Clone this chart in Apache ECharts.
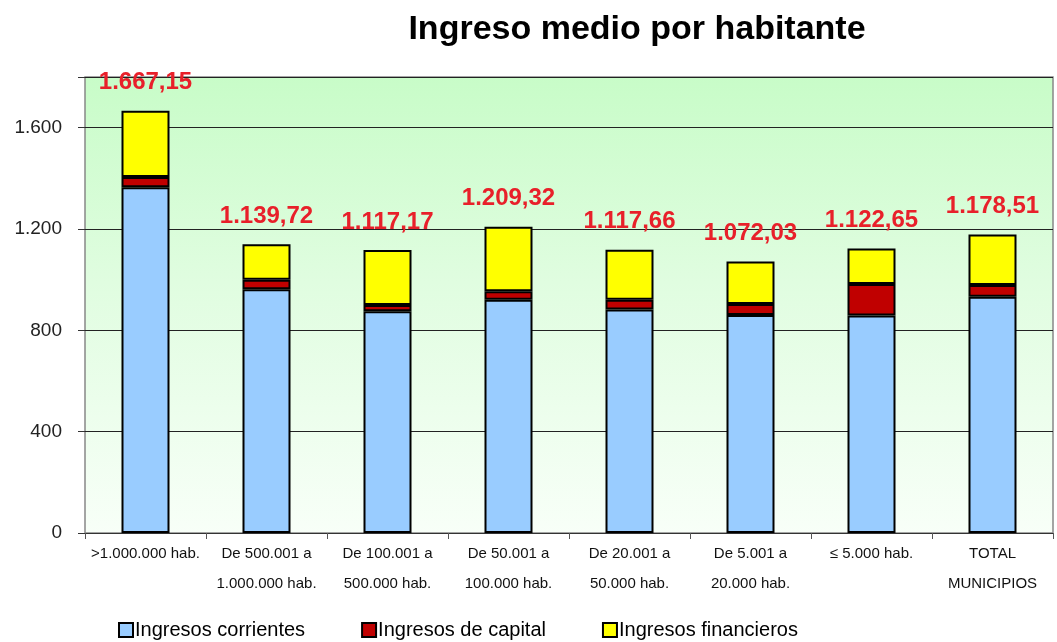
<!DOCTYPE html>
<html><head><meta charset="utf-8">
<script src="https://cdn.jsdelivr.net/npm/echarts@6/dist/echarts.min.js"></script>
<style>html,body{margin:0;padding:0;background:#fff}#c{width:1057px;height:642px}</style>
</head><body><div id="c"></div>
<script>
const categories = ['>1.000.000 hab.', 'De 500.001 a\n1.000.000 hab.', 'De 100.001 a\n500.000 hab.', 'De 50.001 a\n100.000 hab.', 'De 20.001 a\n50.000 hab.', 'De 5.001 a\n20.000 hab.', '≤ 5.000 hab.', 'TOTAL\nMUNICIPIOS'];
const corrientes = [1365, 962, 875, 921, 882, 861, 859, 933];
const capital = [40, 38, 25, 33, 39, 43, 124, 46];
const totals = [1667.15, 1139.72, 1117.17, 1209.32, 1117.66, 1072.03, 1122.65, 1178.51];
const financieros = totals.map((t, i) => +(t - corrientes[i] - capital[i]).toFixed(2));
const yTicks = [0, 400, 800, 1200, 1600];

function fmtEs(v, dec) {
  const parts = v.toFixed(dec).split('.');
  parts[0] = parts[0].replace(/\B(?=(\d{3})+(?!\d))/g, '.');
  return parts.join(',');
}
const FONT = '"Liberation Sans Narrow", "Liberation Sans", Arial, sans-serif';
const chart = echarts.init(document.getElementById('c'));
const border = {borderColor: '#000', borderWidth: 2};
chart.setOption({
  animation: false,
  title: {text: 'Ingreso medio por habitante', left: 632, top: 8, textAlign: 'center',
    textStyle: {fontFamily: FONT, fontSize: 34, fontWeight: 'bold', color: '#000'}},
  legend: {bottom: -3, left: 113, itemGap: 56, itemWidth: 14, itemHeight: 14,
    icon: 'rect',
    textStyle: {fontFamily: FONT, fontSize: 20, color: '#000', padding: [0, 0, 0, -3]},
    data: ['Ingresos corrientes', 'Ingresos de capital', 'Ingresos financieros']},
  grid: {left: 85, right: 4, top: 77, bottom: 109, show: true, borderColor: '#888', borderWidth: 1.5,
    backgroundColor: new echarts.graphic.LinearGradient(0, 0, 0, 1, [
      {offset: 0, color: '#c8fcc8'}, {offset: 0.45, color: '#e0fde0'}, {offset: 1, color: '#f8fff8'}])},
  xAxis: {type: 'category', data: categories,
    axisLine: {lineStyle: {color: '#333', width: 1}},
    axisTick: {show: true, length: 6, lineStyle: {color: '#555'}},
    axisLabel: {fontFamily: FONT, fontSize: 15, color: '#111', lineHeight: 30, margin: 6, interval: 0}},
  yAxis: {type: 'value', min: 0, max: 1800, interval: 400,
    axisLine: {show: false},
    axisTick: {show: true, length: 7, lineStyle: {color: '#333'}},
    splitLine: {lineStyle: {color: '#222', width: 1}},
    axisLabel: {fontFamily: FONT, fontSize: 19, color: '#222', margin: 23,
      formatter: v => yTicks.includes(v) ? fmtEs(v, 0) : ''}},
  series: [
    {name: 'Ingresos corrientes', type: 'bar', stack: 's', data: corrientes, barWidth: 48,
      itemStyle: Object.assign({color: '#99ccff'}, border)},
    {name: 'Ingresos de capital', type: 'bar', stack: 's', data: capital,
      itemStyle: Object.assign({color: '#c00000'}, border)},
    {name: 'Ingresos financieros', type: 'bar', stack: 's', data: financieros,
      itemStyle: Object.assign({color: '#ffff00'}, border),
      label: {show: true, position: 'top', distance: 16,
        fontFamily: FONT, fontSize: 24, fontWeight: 'bold', color: '#e8202a',
        formatter: p => fmtEs(totals[p.dataIndex], 2)}}
  ]
});
</script></body></html>
